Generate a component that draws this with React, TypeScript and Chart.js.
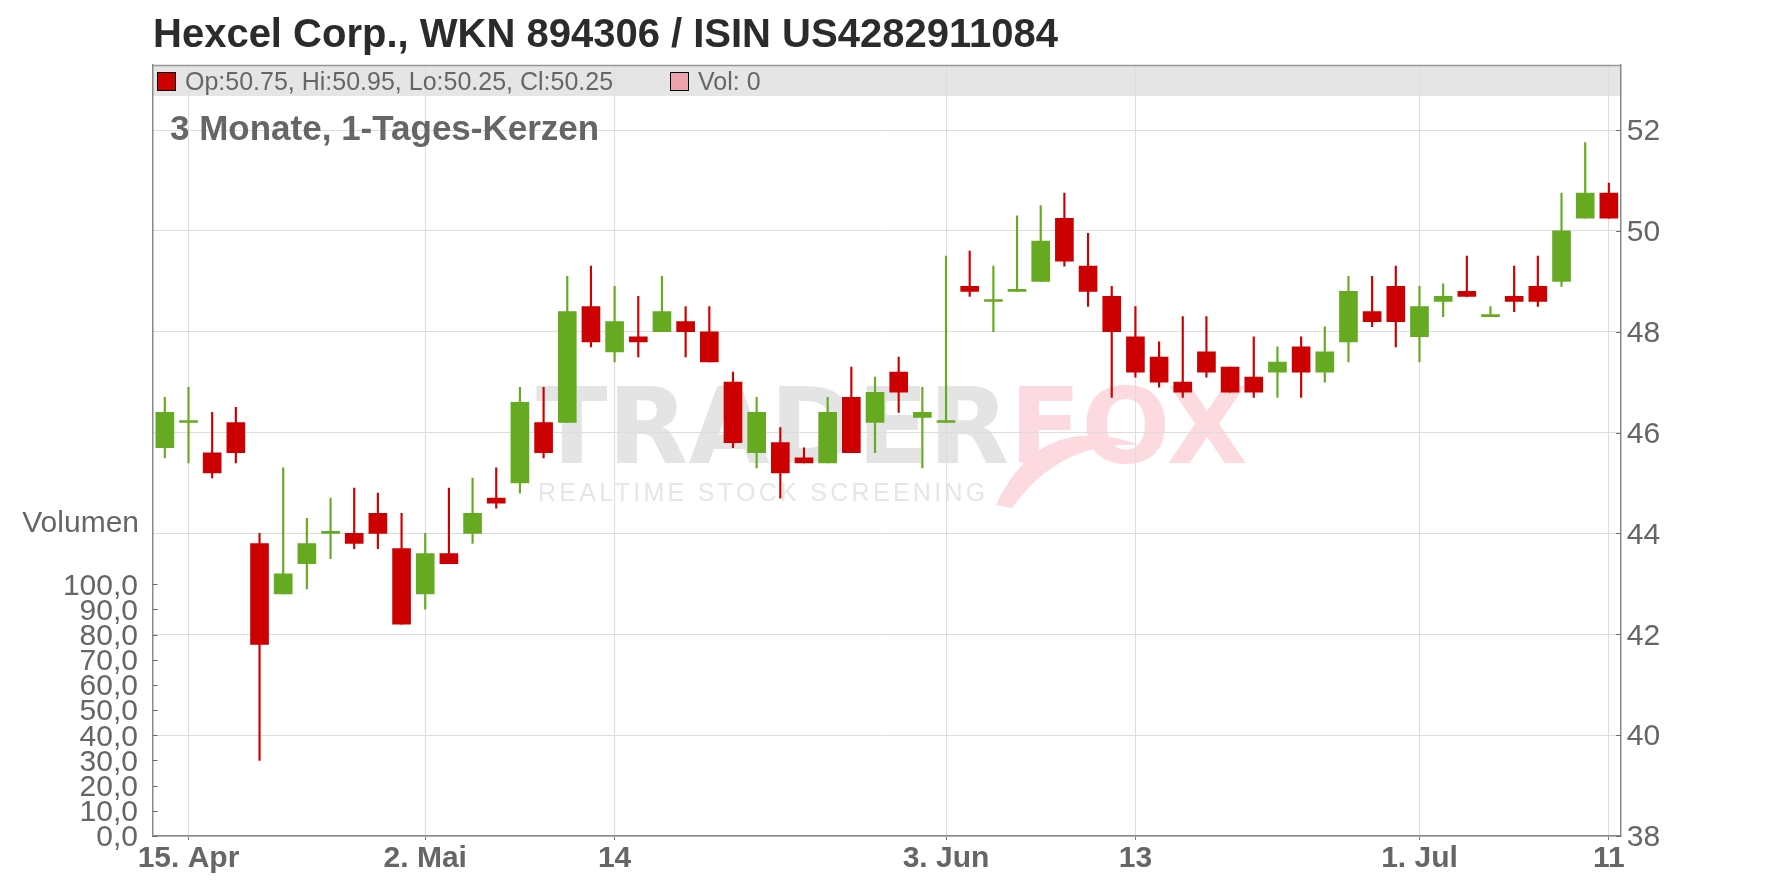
import React, { useEffect, useRef } from 'react';
import { Chart, registerables } from 'chart.js';

Chart.register(...registerables);

// ---- data ----
const dates = [
  '2025-04-14', '2025-04-15', '2025-04-16', '2025-04-17', '2025-04-22', '2025-04-23', '2025-04-24', '2025-04-25',
  '2025-04-28', '2025-04-29', '2025-04-30', '2025-05-02', '2025-05-05', '2025-05-06', '2025-05-07', '2025-05-08',
  '2025-05-09', '2025-05-12', '2025-05-13', '2025-05-14', '2025-05-15', '2025-05-16', '2025-05-19', '2025-05-20',
  '2025-05-21', '2025-05-22', '2025-05-23', '2025-05-26', '2025-05-27', '2025-05-28', '2025-05-29', '2025-05-30',
  '2025-06-02', '2025-06-03', '2025-06-04', '2025-06-05', '2025-06-06', '2025-06-09', '2025-06-10', '2025-06-11',
  '2025-06-12', '2025-06-13', '2025-06-16', '2025-06-17', '2025-06-18', '2025-06-19', '2025-06-20', '2025-06-23',
  '2025-06-24', '2025-06-25', '2025-06-26', '2025-06-27', '2025-06-30', '2025-07-01', '2025-07-02', '2025-07-03',
  '2025-07-04', '2025-07-07', '2025-07-08', '2025-07-09', '2025-07-10', '2025-07-11',
];

const openP = [
  45.7, 46.2, 45.6, 46.2, 43.8, 42.8, 43.4, 44.0, 44.0, 44.4, 43.7, 42.8, 43.6, 44.0, 44.7, 45.0,
  46.2, 46.2, 48.5, 47.6, 47.9, 48.0, 48.2, 48.0, 47.0, 45.6, 45.8, 45.5, 45.4, 46.7, 46.2, 47.2,
  46.3, 46.2, 48.9, 48.6, 48.8, 49.0, 50.25, 49.3, 48.7, 47.9, 47.5, 47.0, 47.6, 47.3, 47.1, 47.2,
  47.7, 47.2, 47.8, 48.4, 48.9, 47.9, 48.6, 48.8, 48.3, 48.7, 48.9, 49.0, 50.25, 50.75,
];
const highP = [
  46.7, 46.9, 46.4, 46.5, 44.0, 45.3, 44.3, 44.7, 44.9, 44.8, 44.4, 44.0, 44.9, 45.1, 45.3, 46.9,
  46.9, 49.1, 49.3, 48.9, 48.7, 49.1, 48.5, 48.5, 47.2, 46.7, 46.1, 45.7, 46.7, 47.3, 47.1, 47.5,
  46.9, 49.5, 49.6, 49.3, 50.3, 50.5, 50.75, 49.95, 48.9, 48.5, 47.8, 48.3, 48.3, 47.3, 47.9, 47.7,
  47.9, 48.1, 49.1, 49.1, 49.3, 48.9, 48.95, 49.5, 48.5, 49.3, 49.5, 50.75, 51.75, 50.95,
];
const lowP = [
  45.5, 45.4, 45.1, 45.4, 39.5, 42.8, 42.9, 43.5, 43.7, 43.7, 42.2, 42.5, 43.4, 43.8, 44.5, 44.8,
  45.5, 46.2, 47.7, 47.4, 47.5, 48.0, 47.5, 47.4, 45.7, 45.3, 44.7, 45.4, 45.4, 45.6, 45.6, 46.4,
  45.3, 46.2, 48.7, 48.0, 48.8, 49.0, 49.3, 48.5, 46.7, 47.1, 46.9, 46.7, 47.1, 46.8, 46.7, 46.7,
  46.7, 47.0, 47.4, 48.1, 47.7, 47.4, 48.3, 48.7, 48.3, 48.4, 48.5, 48.9, 50.25, 50.25,
];
const closeP = [
  46.4, 46.2, 45.2, 45.6, 41.8, 43.2, 43.8, 44.0, 43.8, 44.0, 42.2, 43.6, 43.4, 44.4, 44.6, 46.6,
  45.6, 48.4, 47.8, 48.2, 47.8, 48.4, 48.0, 47.4, 45.8, 46.4, 45.2, 45.4, 46.4, 45.6, 46.8, 46.8,
  46.4, 46.2, 48.8, 48.6, 48.8, 49.8, 49.4, 48.8, 48.0, 47.2, 47.0, 46.8, 47.2, 46.8, 46.8, 47.4,
  47.2, 47.6, 48.8, 48.2, 48.2, 48.5, 48.7, 48.7, 48.3, 48.6, 48.6, 50.0, 50.75, 50.25,
];

const lastVolume = 0;

const tickDates = ['2025-04-15', '2025-05-02', '2025-05-14', '2025-06-03', '2025-06-13', '2025-07-01', '2025-07-11'];
const tickTexts = ['15. Apr', '2. Mai', '14', '3. Jun', '13', '1. Jul', '11'];
const priceTicks = [38, 40, 42, 44, 46, 48, 50, 52];
const volumeTicks = [0, 10, 20, 30, 40, 50, 60, 70, 80, 90, 100];

const titleText = 'Hexcel Corp., WKN 894306 / ISIN US4282911084';
const subtitleText = '3 Monate, 1-Tages-Kerzen';
const volumeTitle = 'Volumen';

// ---- styles ----
const FONT = "'Liberation Sans', Arial, Helvetica, sans-serif";
const GREEN = '#66aa22';
const RED = '#cc0000';
const TEXT = '#666666';

export default function App() {
  const ref = useRef<HTMLCanvasElement | null>(null);

  useEffect(() => {
    const canvas = ref.current;
    if (!canvas) return;
    const n = dates.length;
    const colors = dates.map((_, i) => (closeP[i] >= openP[i] ? GREEN : RED));
    const tickIdx = tickDates.map((d) => dates.indexOf(d));
    const last = n - 1;
    const legendText = `Op:${openP[last].toFixed(2)}, Hi:${highP[last].toFixed(2)}, Lo:${lowP[last].toFixed(2)}, Cl:${closeP[last].toFixed(2)}`;

    const decor = {
      id: 'decor',
      beforeDraw(chart: any) {
        const { ctx, chartArea } = chart;
        const { left, right, top } = chartArea;
        ctx.save();
        ctx.fillStyle = '#ffffff';
        ctx.fillRect(0, 0, chart.width, chart.height);
        // legend band
        ctx.fillStyle = '#e5e5e5';
        ctx.fillRect(left, top, right - left, 31);
        // watermark
        ctx.font = `bold 105px 'DejaVu Sans', ${FONT}`;
        ctx.textBaseline = 'alphabetic';
        ctx.textAlign = 'left';
        ctx.fillStyle = '#e4e4e4';
        ctx.fillText('TRADER', 536, 463);
        const w = ctx.measureText('TRADER').width;
        ctx.fillStyle = '#fddadf';
        ctx.fillText('FOX', 536 + w, 463);
        // fox tail swoosh
        ctx.beginPath();
        ctx.moveTo(996, 505);
        ctx.quadraticCurveTo(1040, 410, 1140, 445);
        ctx.quadraticCurveTo(1060, 440, 1012, 508);
        ctx.closePath();
        ctx.fill();
        ctx.font = `25px ${FONT}`;
        (ctx as any).letterSpacing = '3.3px';
        ctx.fillStyle = '#e6e6e6';
        ctx.fillText('REALTIME STOCK SCREENING', 538, 501);
        (ctx as any).letterSpacing = '0px';
        ctx.restore();
      },
      afterDraw(chart: any) {
        const { ctx, chartArea } = chart;
        const { left, right, top } = chartArea;
        ctx.save();
        // top border of band
        ctx.strokeStyle = '#999999';
        ctx.lineWidth = 1.5;
        ctx.beginPath();
        ctx.moveTo(left, top + 0.5);
        ctx.lineTo(right, top + 0.5);
        ctx.stroke();
        // inward ticks
        ctx.strokeStyle = '#666666';
        ctx.lineWidth = 1;
        const yP = chart.scales.y;
        priceTicks.forEach((v) => {
          const py = Math.round(yP.getPixelForValue(v)) + 0.5;
          ctx.beginPath();
          ctx.moveTo(right - 4.5, py);
          ctx.lineTo(right, py);
          ctx.stroke();
        });
        const yV = chart.scales.yVol;
        volumeTicks.forEach((v) => {
          const py = Math.round(yV.getPixelForValue(v)) + 0.5;
          ctx.beginPath();
          ctx.moveTo(left, py);
          ctx.lineTo(left + 4.5, py);
          ctx.stroke();
        });
        // title
        ctx.textAlign = 'left';
        ctx.textBaseline = 'alphabetic';
        ctx.fillStyle = '#2b2b2b';
        ctx.font = `bold 40px ${FONT}`;
        ctx.fillText(titleText, 153, 47);
        // legend
        ctx.fillStyle = RED;
        ctx.fillRect(157.5, 72.5, 18, 18);
        ctx.strokeStyle = '#000000';
        ctx.strokeRect(157.5, 72.5, 18, 18);
        ctx.fillStyle = TEXT;
        ctx.font = `25px ${FONT}`;
        ctx.fillText(legendText, 185, 89.5);
        ctx.fillStyle = '#eea4ac';
        ctx.fillRect(670.5, 72.5, 18, 18);
        ctx.strokeRect(670.5, 72.5, 18, 18);
        ctx.fillStyle = TEXT;
        ctx.fillText(`Vol: ${lastVolume}`, 698, 89.5);
        // subtitle
        ctx.font = `bold 35px ${FONT}`;
        ctx.fillText(subtitleText, 170, 140);
        // volume title
        ctx.font = `30px ${FONT}`;
        ctx.textAlign = 'right';
        ctx.fillText(volumeTitle, 139, 532);
        ctx.restore();
      },
    };

    const chart = new Chart(canvas, {
      type: 'bar',
      data: {
        labels: dates,
        datasets: [
          {
            label: 'Docht',
            data: dates.map((_, i) => [lowP[i], highP[i]]) as any,
            backgroundColor: colors,
            barThickness: 1.5,
            grouped: false,
            borderWidth: 0,
            yAxisID: 'y',
            order: 2,
          } as any,
          {
            label: 'Kerze',
            data: dates.map((_, i) => [openP[i], closeP[i]]) as any,
            backgroundColor: colors,
            barThickness: 18,
            minBarLength: 2,
            grouped: false,
            borderWidth: 0,
            yAxisID: 'y',
            order: 1,
          } as any,
        ],
      },
      options: {
        responsive: false,
        animation: false,
        events: [],
        layout: { padding: { top: 65, left: 0, right: 0, bottom: 0 } },
        plugins: {
          legend: { display: false },
          tooltip: { enabled: false },
          title: { display: false },
        },
        scales: {
          x: {
            type: 'category',
            offset: true,
            position: 'bottom',
            afterBuildTicks: (s: any) => {
              s.ticks = tickIdx.map((v) => ({ value: v }));
            },
            afterFit: (s: any) => {
              s.height = 52;
            },
            grid: { color: '#dddddd', lineWidth: 1, tickColor: '#777777', tickLength: 4, drawTicks: true, offset: false },
            border: { color: '#888888', width: 1.5 },
            ticks: {
              autoSkip: false,
              maxRotation: 0,
              minRotation: 0,
              padding: 1,
              color: TEXT,
              font: { family: FONT, size: 30, weight: 'bold' },
              callback: (_v: any, i: number) => tickTexts[i],
            },
          },
          yVol: {
            type: 'linear',
            position: 'left',
            min: 0,
            max: 306.3,
            bounds: 'data',
            afterBuildTicks: (s: any) => {
              s.ticks = volumeTicks.map((v) => ({ value: v }));
            },
            afterFit: (s: any) => {
              s.width = 153;
            },
            grid: { display: false },
            border: { color: '#888888', width: 1.5 },
            ticks: {
              autoSkip: false,
              padding: 7,
              labelOffset: 2,
              color: TEXT,
              font: { family: FONT, size: 30 },
              callback: (v: any) => Number(v).toFixed(1).replace('.', ','),
            },
          },
          y: {
            type: 'linear',
            position: 'right',
            min: 38,
            max: 53.29,
            bounds: 'data',
            afterBuildTicks: (s: any) => {
              s.ticks = priceTicks.map((v) => ({ value: v }));
            },
            afterFit: (s: any) => {
              s.width = 155.3;
            },
            grid: { color: '#dddddd', lineWidth: 1, drawTicks: false },
            border: { color: '#888888', width: 1.5 },
            ticks: {
              autoSkip: false,
              padding: 6,
              labelOffset: 2,
              color: TEXT,
              font: { family: FONT, size: 30 },
              callback: (v: any) => String(v),
            },
          },
        },
      } as any,
      plugins: [decor],
    });

    return () => chart.destroy();
  }, []);

  return (
    <div style={{ position: 'fixed', left: 0, top: 0, width: 1776, height: 888, background: '#ffffff' }}>
      <canvas ref={ref} width={1776} height={888} style={{ display: 'block' }} />
    </div>
  );
}
